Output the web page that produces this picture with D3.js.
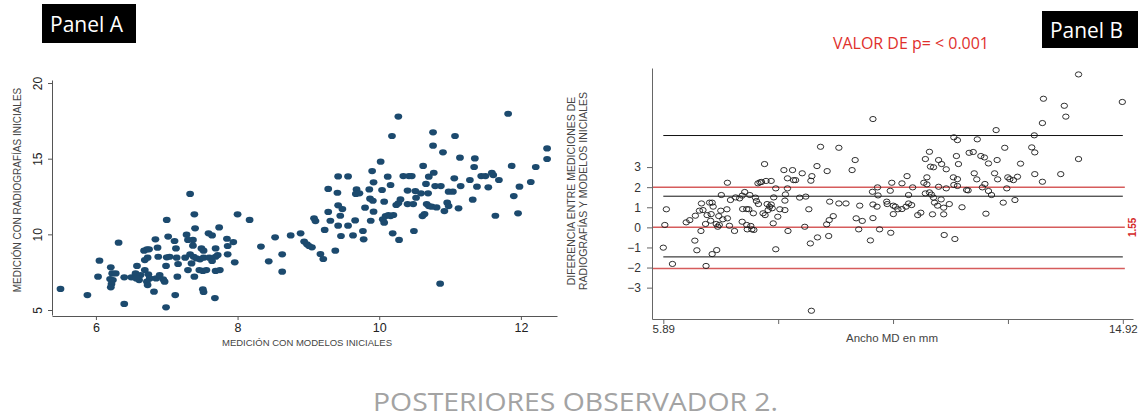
<!DOCTYPE html>
<html>
<head>
<meta charset="utf-8">
<script src="https://cdn.jsdelivr.net/npm/d3@7"></script>
<style>
  body { margin: 0; background: #fff; }
  svg { display: block; }
</style>
</head>
<body>
<div id="chart"></div>
<script>
// Data
// Panel A: medición con modelos (x) vs medición con radiografías (y)
const panelAPoints = [
  [5.50,6.39],[5.88,5.99],[6.40,5.40],[6.05,8.26],[6.03,7.20],[6.21,7.82],[6.23,7.42],[6.28,7.42],[6.20,7.05],[6.24,6.98],
  [6.22,6.72],[6.21,6.50],[6.32,9.45],[6.40,7.16],[6.50,7.16],[6.56,7.42],[6.58,7.91],[6.61,6.98],[6.63,7.31],[6.57,7.09],
  [6.68,8.92],[6.72,9.01],[6.75,9.01],[6.69,8.30],[6.73,8.46],[6.69,7.64],[6.74,7.36],[6.76,7.09],[6.72,6.87],[6.73,6.65],
  [6.84,9.67],[6.87,9.12],[6.82,6.21],[6.85,7.09],[6.90,7.31],[6.95,7.03],[6.88,8.52],[7.00,10.95],[7.02,9.85],[7.00,8.48],
  [7.04,8.52],[6.99,7.91],[6.97,6.87],[6.99,5.18],[7.11,9.56],[7.13,9.07],[7.14,8.46],[7.16,8.04],[7.15,7.20],[7.12,5.99],
  [7.28,9.98],[7.30,9.63],[7.37,9.63],[7.33,12.67],[7.39,11.32],[7.40,10.40],[7.37,9.25],[7.26,8.46],[7.33,8.68],[7.38,8.52],
  [7.42,8.41],[7.35,8.08],[7.30,7.64],[7.39,7.20],[7.49,9.07],[7.52,8.92],[7.47,8.35],[7.52,8.46],[7.46,7.64],[7.51,7.58],
  [7.56,7.64],[7.51,6.37],[7.52,6.19],[7.59,10.07],[7.64,9.93],[7.69,9.07],[7.69,8.52],[7.60,8.46],[7.72,8.63],[7.64,8.24],
  [7.69,7.58],[7.75,7.64],[7.68,5.79],[7.74,10.46],[7.85,9.71],[7.86,9.23],[7.94,9.49],[7.86,8.68],[7.96,8.15],[8.00,11.32],
  [8.17,10.95],[8.33,9.19],[8.44,8.22],[8.63,8.68],[8.63,7.53],[8.53,9.80],[8.75,9.93],[8.89,10.07],[8.94,9.52],[8.98,9.34],
  [9.01,9.23],[9.05,9.14],[9.08,11.06],[9.10,10.88],[9.17,8.70],[9.21,8.37],[9.23,10.29],[9.28,13.00],[9.28,11.48],[9.31,10.90],
  [9.38,8.92],[9.41,12.75],[9.42,13.83],[9.42,11.92],[9.45,11.23],[9.48,11.67],[9.42,10.57],[9.46,9.89],[9.56,13.83],[9.56,10.57],
  [9.63,9.93],[9.66,10.92],[9.68,12.97],[9.67,12.67],[9.72,12.71],[9.77,10.22],[9.78,9.67],[9.80,11.76],[9.86,12.97],[9.87,12.36],
  [9.90,14.18],[9.91,12.22],[9.92,13.44],[9.92,11.50],[9.88,10.90],[10.02,14.80],[10.04,12.93],[10.07,12.16],[10.12,13.81],[10.16,13.26],
  [10.18,16.50],[10.27,17.78],[10.05,10.99],[10.09,11.21],[10.13,11.28],[10.16,11.21],[10.20,11.28],[10.07,10.77],[10.19,10.07],[10.28,9.63],
  [10.24,11.94],[10.27,12.05],[10.30,12.31],[10.34,13.85],[10.40,12.89],[10.40,12.00],[10.42,13.85],[10.46,13.85],[10.48,12.00],[10.51,12.86],
  [10.52,12.42],[10.49,10.22],[10.59,12.71],[10.62,14.52],[10.66,13.33],[10.70,13.81],[10.69,12.71],[10.67,12.00],[10.70,11.87],[10.61,11.21],
  [10.64,11.34],[10.76,16.74],[10.76,15.86],[10.77,14.07],[10.79,13.19],[10.87,13.19],[10.74,11.83],[10.81,11.78],[10.92,11.54],[10.90,15.42],
  [10.98,12.82],[10.96,12.09],[10.98,11.87],[11.04,12.82],[11.06,13.70],[11.07,16.50],[11.12,11.72],[11.14,15.07],[11.15,13.19],[11.28,13.59],
  [11.32,12.29],[11.35,15.02],[11.34,14.45],[11.38,13.15],[11.44,13.85],[11.50,13.85],[11.54,13.11],[11.59,14.07],[11.61,13.92],[11.64,11.23],
  [11.69,13.59],[11.82,17.97],[11.87,14.52],[11.90,12.53],[11.96,11.39],[11.98,13.15],[12.14,13.46],[12.21,14.45],[12.37,15.68],[12.37,14.98],
  [10.86,6.74]
];

// Panel B: ancho MD (x) vs diferencia entre mediciones (y)
const panelBPoints = [
  [5.89,-1.01],[5.92,0.12],[5.95,0.90],[6.07,-1.82],[6.34,0.25],[6.41,0.36],[6.51,-0.66],[6.55,-1.14],[6.52,0.58],[6.60,0.83],
  [6.63,-0.18],[6.64,1.19],[6.67,0.86],[6.72,0.17],[6.73,-1.92],[6.80,1.23],[6.85,1.23],[6.75,0.61],[6.83,0.66],[6.87,1.03],
  [6.82,0.33],[6.85,-1.33],[6.93,0.17],[6.94,-1.13],[6.96,0.03],[6.98,0.56],[6.99,0.12],[7.02,0.83],[7.03,1.61],[7.06,0.40],
  [7.14,0.90],[7.15,2.22],[7.15,0.45],[7.19,0.08],[7.21,1.36],[7.29,-0.18],[7.31,1.49],[7.39,1.44],[7.44,1.58],[7.45,0.91],
  [7.44,0.28],[7.49,1.76],[7.53,0.91],[7.53,0.12],[7.54,-0.10],[7.57,0.90],[7.59,1.61],[7.61,0.07],[7.63,-0.10],[7.66,0.70],
  [7.67,-0.13],[7.70,1.48],[7.72,1.31],[7.75,2.19],[7.79,2.24],[7.82,2.26],[7.76,1.16],[7.85,0.70],[7.88,3.15],[7.91,2.31],
  [7.89,0.61],[7.93,1.16],[7.95,0.86],[7.98,1.03],[8.01,2.31],[8.01,1.14],[8.05,0.20],[8.06,1.49],[8.03,0.95],[8.10,-1.09],
  [8.10,1.94],[8.14,0.53],[8.18,0.90],[8.26,2.85],[8.28,1.33],[8.29,1.64],[8.33,1.94],[8.34,-0.18],[8.28,0.86],[8.33,2.44],
  [8.43,2.85],[8.45,2.35],[8.49,2.35],[8.62,2.69],[8.57,1.48],[8.67,0.03],[8.69,1.53],[8.75,0.90],[8.78,-0.80],[8.80,-4.15],
  [8.79,2.32],[8.81,2.55],[8.98,4.01],[9.34,3.96],[8.91,3.05],[9.11,2.80],[9.66,3.35],[9.60,2.85],[8.92,-0.50],[9.14,-0.43],
  [9.10,0.15],[9.15,0.36],[9.23,0.56],[9.16,1.28],[9.34,1.19],[9.48,1.19],[9.68,0.45],[9.80,0.32],[9.73,-0.10],[9.75,1.08],
  [10.01,5.39],[10.00,1.77],[10.10,1.99],[10.11,1.59],[10.01,1.14],[10.01,0.46],[10.09,1.03],[9.96,-0.65],[10.14,-0.10],[10.28,1.28],
  [10.29,1.16],[10.35,1.82],[10.38,2.22],[10.36,-0.27],[10.41,1.08],[10.45,1.03],[10.41,0.66],[10.50,0.90],[10.58,0.91],[10.58,2.19],
  [10.68,2.55],[10.66,1.03],[10.71,1.61],[10.71,1.19],[10.77,1.11],[10.79,1.99],[10.89,0.61],[10.95,0.73],[11.01,2.22],[11.04,1.69],
  [11.04,3.40],[11.07,2.49],[11.07,2.14],[11.12,3.76],[11.14,3.02],[11.20,2.99],[11.12,1.74],[11.16,1.63],[11.20,1.48],[11.18,0.65],
  [11.22,1.23],[11.28,1.08],[11.30,3.35],[11.36,3.15],[11.30,2.02],[11.35,1.39],[11.40,0.98],[11.40,0.65],[11.45,2.89],[11.45,1.94],
  [11.41,-0.38],[11.51,1.16],[11.60,4.48],[11.67,4.34],[11.65,3.55],[11.69,3.15],[11.59,2.49],[11.67,2.40],[11.60,2.11],[11.67,2.06],
  [11.62,-0.58],[11.76,1.00],[11.85,1.86],[11.90,3.71],[11.88,1.84],[12.06,4.38],[11.98,3.75],[12.13,3.55],[12.20,3.48],[12.28,3.18],
  [12.45,3.35],[12.43,4.84],[12.00,2.69],[12.05,2.39],[12.21,2.16],[12.16,1.99],[12.28,1.81],[12.34,1.61],[12.46,2.39],[12.40,2.69],
  [12.23,0.68],[12.57,1.23],[12.64,1.94],[12.66,2.49],[12.70,2.40],[12.77,2.35],[12.85,2.52],[12.80,1.36],[12.60,3.96],[12.91,3.17],
  [13.13,3.98],[13.19,3.73],[13.18,4.58],[13.19,2.65],[13.34,2.27],[13.34,5.19],[13.36,6.40],[13.70,2.65],[13.77,6.05],[13.80,5.51],
  [14.05,7.61],[14.05,3.40],[14.91,6.24]
];

const panelAXTicks = [6, 8, 10, 12];
const panelAYTicks = [5, 10, 15, 20];
const panelBYTicks = [-3, -2, -1, 0, 1, 2, 3];
const panelBXTicks = [5.89, 8.1475, 10.405, 12.6625, 14.92];
const panelBXLabels = ['5.89', '', '', '', '14.92'];
const agreementLines = [4.57, 1.55, -1.47];   // media y límites (negro)
const referenceLines = [2, 0, -2.05];         // líneas rojas
const meanLabel = '1.55';

const chartFont = '"Liberation Sans", Arial, sans-serif';
const titleFont = '"Open Sans", sans-serif';

const svg = d3.select('#chart')
  .append('svg')
  .attr('width', 1138)
  .attr('height', 420);

// ---------- Panel A ----------
const xA = d3.scaleLinear().domain([5.38, 12.51]).range([52, 557]);
const yA = d3.scaleLinear().domain([4.67, 20.2]).range([315, 80]);

const axAx = svg.append('g')
  .attr('transform', 'translate(0,316)')
  .call(d3.axisBottom(xA).tickValues(panelAXTicks).tickSize(4).tickSizeOuter(0).tickPadding(3));
axAx.selectAll('text').attr('font-family', chartFont).attr('font-size', 12.5).attr('fill', '#222');

const axAy = svg.append('g')
  .attr('transform', 'translate(52,0)')
  .call(d3.axisLeft(yA).tickValues(panelAYTicks).tickSize(4).tickSizeOuter(0));
axAy.selectAll('text')
  .attr('font-family', chartFont).attr('font-size', 12).attr('fill', '#222')
  .attr('text-anchor', 'middle')
  .attr('x', 0).attr('y', -10).attr('dy', null)
  .attr('transform', 'rotate(-90)');

[axAx, axAy].forEach(g => {
  g.select('.domain').attr('stroke', '#555');
  g.selectAll('.tick line').attr('stroke', '#555');
});

svg.append('g')
  .selectAll('ellipse')
  .data(panelAPoints)
  .join('ellipse')
  .attr('cx', d => xA(d[0]))
  .attr('cy', d => yA(d[1]))
  .attr('rx', 3.9)
  .attr('ry', 3.1)
  .attr('fill', '#1c4a6e');

svg.append('text')
  .attr('transform', 'translate(17,190) rotate(-90)')
  .attr('text-anchor', 'middle')
  .attr('dominant-baseline', 'central')
  .attr('font-family', chartFont).attr('font-size', 10).attr('fill', '#444')
  .text('MEDICIÓN  CON RADIOGRAFÍAS  INICIALES');

svg.append('text')
  .attr('x', 307).attr('y', 346)
  .attr('text-anchor', 'middle')
  .attr('font-family', chartFont).attr('font-size', 9.5).attr('fill', '#444')
  .text('MEDICIÓN CON MODELOS INICIALES');

// ---------- Panel B ----------
const xB = d3.scaleLinear().domain([5.668, 15.12]).range([652, 1133]);
const yB = d3.scaleLinear().domain([-4.56, 7.93]).range([319, 68]);

svg.append('g')
  .selectAll('line')
  .data(referenceLines)
  .join('line')
  .attr('x1', xB.range()[0]).attr('x2', xB(14.92) + 2)
  .attr('y1', d => yB(d)).attr('y2', d => yB(d))
  .attr('stroke', '#d65c5c').attr('stroke-width', 1.5);

svg.append('g')
  .selectAll('line')
  .data(agreementLines)
  .join('line')
  .attr('x1', xB(5.89)).attr('x2', xB(14.92))
  .attr('y1', d => yB(d)).attr('y2', d => yB(d))
  .attr('stroke', '#111').attr('stroke-width', 1);

const axBx = svg.append('g')
  .attr('transform', 'translate(0,319)')
  .call(d3.axisBottom(xB).tickValues(panelBXTicks).tickFormat((d, i) => panelBXLabels[i])
    .tickSize(5).tickSizeOuter(0).tickPadding(1));
axBx.selectAll('text').attr('font-family', chartFont).attr('font-size', 11.5).attr('fill', '#333');

const axBy = svg.append('g')
  .attr('transform', 'translate(652,0)')
  .call(d3.axisLeft(yB).tickValues(panelBYTicks).tickSize(5).tickSizeOuter(0).tickPadding(6));
axBy.selectAll('text').attr('font-family', chartFont).attr('font-size', 12).attr('fill', '#333');

[axBx, axBy].forEach(g => {
  g.select('.domain').attr('stroke', '#666');
  g.selectAll('.tick line').attr('stroke', '#666');
});

svg.append('g')
  .selectAll('ellipse')
  .data(panelBPoints)
  .join('ellipse')
  .attr('cx', d => xB(d[0]))
  .attr('cy', d => yB(d[1]))
  .attr('rx', 3.2)
  .attr('ry', 2.6)
  .attr('fill', 'none')
  .attr('stroke', '#1a1a1a')
  .attr('stroke-width', 0.9);

svg.append('text')
  .attr('transform', `translate(1136,${yB(0)}) rotate(-90)`)
  .attr('text-anchor', 'middle')
  .attr('font-family', chartFont).attr('font-size', 10).attr('font-weight', 'bold')
  .attr('fill', '#d42a2a')
  .text(meanLabel);

const yTitleB = svg.append('text')
  .attr('transform', 'translate(575,191) rotate(-90)')
  .attr('text-anchor', 'middle')
  .attr('font-family', chartFont).attr('font-size', 10.5).attr('fill', '#444');
yTitleB.append('tspan').attr('x', 0).attr('dy', 0).text('DIFERENCIA ENTRE  MEDICIONES DE');
yTitleB.append('tspan').attr('x', 0).attr('dy', 12).text('RADIOGRAFÍAS Y MODELOS INICIALES');

svg.append('text')
  .attr('x', 892).attr('y', 342)
  .attr('text-anchor', 'middle')
  .attr('font-family', chartFont).attr('font-size', 11.5).attr('fill', '#444')
  .text('Ancho MD en mm');

svg.append('text')
  .attr('x', 833).attr('y', 49)
  .attr('font-family', titleFont).attr('font-size', 17).attr('fill', '#e0302c')
  .attr('textLength', 156).attr('lengthAdjust', 'spacingAndGlyphs')
  .text('VALOR DE p= < 0.001');

// ---------- Panel labels and title ----------
svg.append('rect').attr('x', 42).attr('y', 4).attr('width', 94).attr('height', 39).attr('fill', '#000');
svg.append('text')
  .attr('x', 50).attr('y', 32)
  .attr('font-family', titleFont).attr('font-size', 22).attr('fill', '#fff')
  .attr('textLength', 73).attr('lengthAdjust', 'spacingAndGlyphs')
  .text('Panel A');

svg.append('rect').attr('x', 1042).attr('y', 11).attr('width', 96).attr('height', 37).attr('fill', '#000');
svg.append('text')
  .attr('x', 1050).attr('y', 38)
  .attr('font-family', titleFont).attr('font-size', 22).attr('fill', '#fff')
  .attr('textLength', 73).attr('lengthAdjust', 'spacingAndGlyphs')
  .text('Panel B');

svg.append('text')
  .attr('x', 373).attr('y', 411)
  .attr('font-family', titleFont).attr('font-size', 25.5).attr('fill', '#a3a3a3')
  .attr('textLength', 405).attr('lengthAdjust', 'spacingAndGlyphs')
  .text('POSTERIORES OBSERVADOR 2.');
</script>
</body>
</html>
